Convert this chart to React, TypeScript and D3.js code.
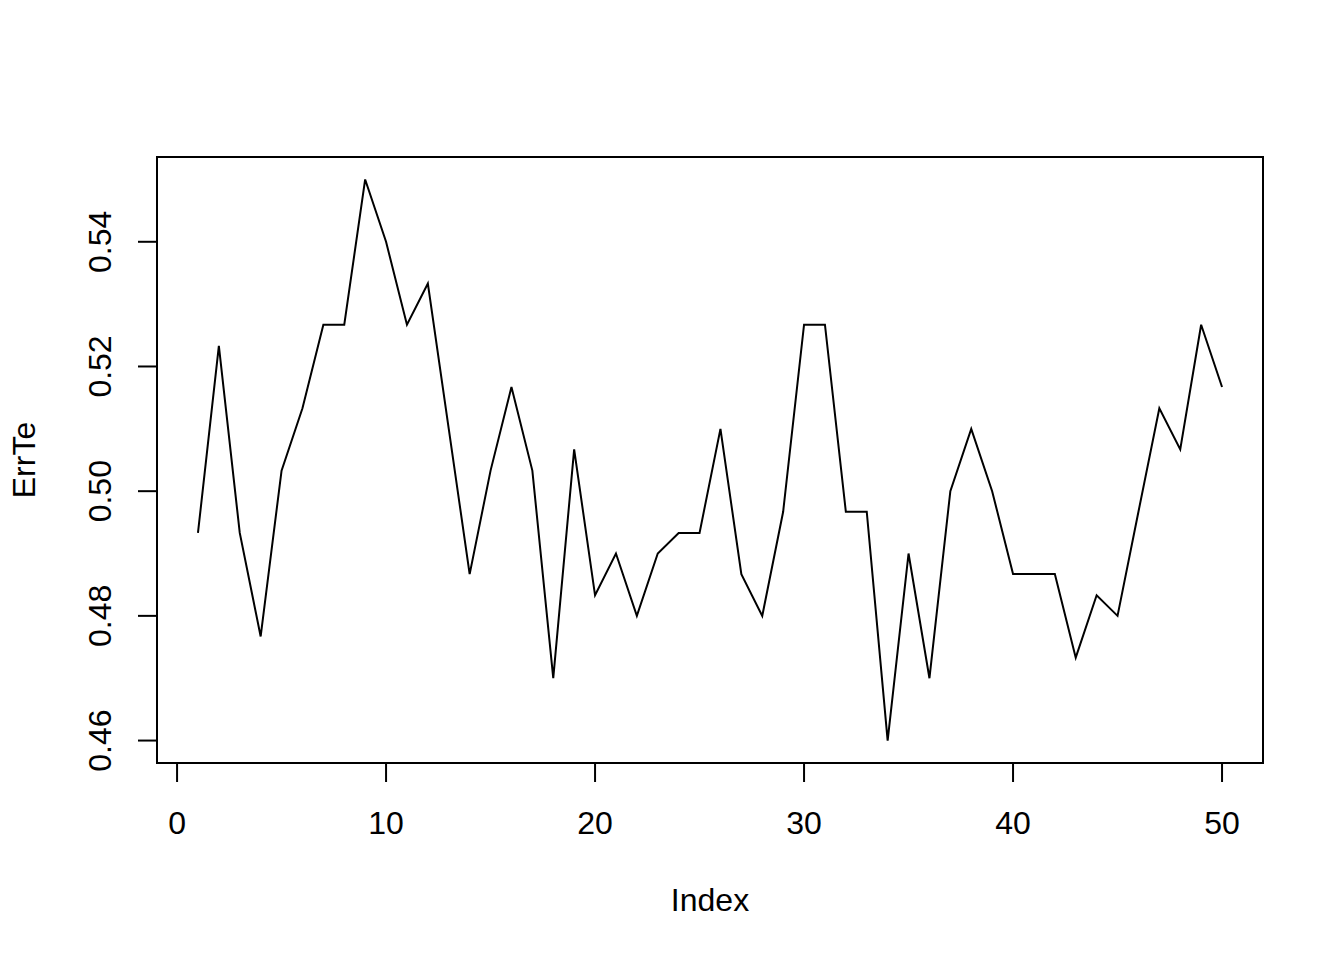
import * as d3 from "d3";
import { useEffect, useRef } from "react";

// test error per run
const errTe = [
  0.4933, 0.5233, 0.4933, 0.4767, 0.5033, 0.5133, 0.5267, 0.5267, 0.55, 0.54,
  0.5267, 0.5333, 0.51, 0.4867, 0.5033, 0.5167, 0.5033, 0.47, 0.5067, 0.4833,
  0.49, 0.48, 0.49, 0.4933, 0.4933, 0.51, 0.4867, 0.48, 0.4967, 0.5267,
  0.5267, 0.4967, 0.4967, 0.46, 0.49, 0.47, 0.5, 0.51, 0.5, 0.4867,
  0.4867, 0.4867, 0.4733, 0.4833, 0.48, 0.4967, 0.5133, 0.5067, 0.5267, 0.5167,
];
const xTicks = [0, 10, 20, 30, 40, 50];
const yTicks = [0.46, 0.48, 0.5, 0.52, 0.54];
const xLabel = "Index";
const yLabel = "ErrTe";

const width = 1344;
const height = 960;
const left = 157;
const right = 1263;
const top = 157;
const bottom = 763;
const font = "'Liberation Sans', Arial, sans-serif";

const App = () => {
  const plot = useRef<SVGSVGElement>(null);

  useEffect(() => {
    const svg = d3.select(plot.current);
    svg.selectAll("*").remove();

    const data = errTe.map((v, i) => ({ i: i + 1, v }));
    // R pads the data range by 4% each side
    const xPad = (data.length - 1) * 0.04;
    const yMin = d3.min(errTe) as number;
    const yMax = d3.max(errTe) as number;
    const yPad = (yMax - yMin) * 0.04;

    const xScale = d3
      .scaleLinear()
      .domain([1 - xPad, data.length + xPad])
      .range([left, right]);
    const yScale = d3
      .scaleLinear()
      .domain([yMin - yPad, yMax + yPad])
      .range([bottom, top]);

    const line = d3
      .line<{ i: number; v: number }>()
      .x((d) => xScale(d.i))
      .y((d) => yScale(d.v));

    svg
      .append("path")
      .attr("d", line(data))
      .attr("fill", "none")
      .attr("stroke", "#000")
      .attr("stroke-width", 2)
      .attr("stroke-linejoin", "miter");

    svg
      .append("rect")
      .attr("x", left)
      .attr("y", top)
      .attr("width", right - left)
      .attr("height", bottom - top)
      .attr("fill", "none")
      .attr("stroke", "#000")
      .attr("stroke-width", 2);

    // bottom axis
    const xg = svg.append("g");
    xg.selectAll("line")
      .data(xTicks)
      .enter()
      .append("line")
      .attr("x1", (d) => xScale(d))
      .attr("x2", (d) => xScale(d))
      .attr("y1", bottom)
      .attr("y2", bottom + 19)
      .attr("stroke", "#000")
      .attr("stroke-width", 2);
    xg.selectAll("text")
      .data(xTicks)
      .enter()
      .append("text")
      .attr("x", (d) => xScale(d))
      .attr("y", 834)
      .attr("text-anchor", "middle")
      .attr("font-family", font)
      .attr("font-size", 32)
      .text((d) => d);

    // left axis
    const yg = svg.append("g");
    yg.selectAll("line")
      .data(yTicks)
      .enter()
      .append("line")
      .attr("x1", left - 19)
      .attr("x2", left)
      .attr("y1", (d) => yScale(d))
      .attr("y2", (d) => yScale(d))
      .attr("stroke", "#000")
      .attr("stroke-width", 2);
    yg.selectAll("text")
      .data(yTicks)
      .enter()
      .append("text")
      .attr("transform", (d) => `translate(111, ${yScale(d)}) rotate(-90)`)
      .attr("text-anchor", "middle")
      .attr("font-family", font)
      .attr("font-size", 32)
      .text((d) => d.toFixed(2));

    svg
      .append("text")
      .attr("x", (left + right) / 2)
      .attr("y", 911)
      .attr("text-anchor", "middle")
      .attr("font-family", font)
      .attr("font-size", 32)
      .text(xLabel);

    svg
      .append("text")
      .attr("transform", `translate(35, ${(top + bottom) / 2}) rotate(-90)`)
      .attr("text-anchor", "middle")
      .attr("font-family", font)
      .attr("font-size", 32)
      .text(yLabel);
  }, []);

  return (
    <svg
      ref={plot}
      width={width}
      height={height}
      style={{ position: "absolute", left: 0, top: 0, background: "#fff" }}
    />
  );
};

export default App;
